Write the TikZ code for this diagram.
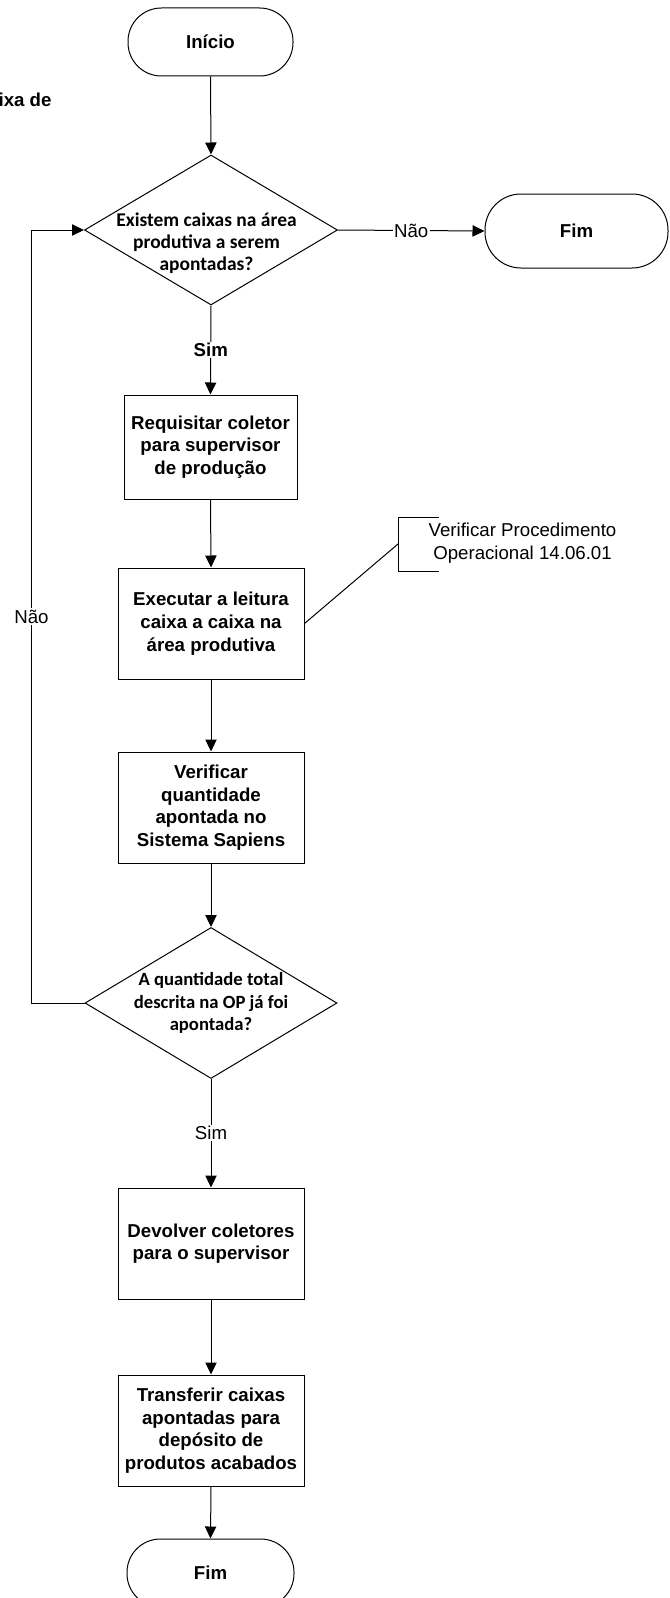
\documentclass[tikz,border=0pt]{standalone}
\usepackage{fontspec}
\setmainfont{Liberation Sans}
\newfontfamily\calibri{Carlito}
\usetikzlibrary{
    arrows.meta,
    shapes.geometric,
    positioning
}
\tikzset{
    terminal/.style={draw, rectangle, rounded corners=25pt, minimum width=123.75pt, minimum height=51pt, inner sep=0pt, font=\bfseries\fontsize{14pt}{17pt}\selectfont},
    process/.style={draw, rectangle, minimum width=139.5pt, minimum height=83.25pt, inner sep=0pt, align=center, font=\bfseries\fontsize{14pt}{17pt}\selectfont},
    decision/.style={draw, diamond, minimum width=189.75pt, minimum height=112.5pt, inner sep=0pt},
    dtext/.style={align=center, inner sep=0pt, font=\calibri\bfseries\fontsize{14pt}{17pt}\selectfont},
    flow/.style={-{Triangle[length=9pt,width=8.5pt]}},
    edgelabel/.style={fill=white, inner sep=1pt, font=\fontsize{14pt}{17pt}\selectfont}
}
\begin{document}
\begin{tikzpicture}[x=0.75pt, y=-0.75pt, line width=0.75pt]
                \useasboundingbox (0,0) rectangle (669,1598);
                \node [anchor=east, inner sep=0pt, font=\bfseries\fontsize{14pt}{17pt}\selectfont] (titulo) at (52,100) {ixa de};
                \node [terminal] (inicio) at (210.5,42) {Início};
                \node [decision] (d1) at (211,230) {};
                \node [dtext, font=\calibri\bfseries\fontsize{14.6pt}{16.5pt}\selectfont] (d1txt) at (206.5,243) {Existem caixas na área\\produtiva a serem\\apontadas?};
                \node [terminal, minimum width=137.25pt, minimum height=55.5pt, rounded corners=27pt] (fim1) at (576.5,231) {Fim};
                \node [process, minimum width=129.75pt, minimum height=78pt] (b1) at (210.5,447) {Requisitar coletor\\para supervisor\\de produção};
                \node [process] (b2) at (211,623.5) {Executar a leitura\\caixa a caixa na\\área produtiva};
                \node [process] (b3) at (211,807.5) {Verificar\\quantidade\\apontada no\\Sistema Sapiens};
                \node [decision, minimum width=189pt, minimum height=113.25pt] (d2) at (211,1003) {};
                \node [dtext] (d2txt) at (211,1003) {A quantidade total\\descrita na OP já foi\\apontada?};
                \node [process] (b4) at (211,1243.5) {Devolver coletores\\para o supervisor};
                \node [process] (b5) at (211,1430.5) {Transferir caixas\\apontadas para\\depósito de\\produtos acabados};
                \node [terminal, minimum width=125.25pt] (fim2) at (210.5,1573) {Fim};
                \foreach \a/\b in {inicio/d1, b1/b2, b2/b3, b3/d2, b4/b5, b5/fim2}{
                    \draw [flow] (\a.south) -- (\b.north);
                }
                \draw [flow] (d1.south) -- node [edgelabel, font=\bfseries\fontsize{14pt}{17pt}\selectfont] {Sim} (b1.north);
                \draw [flow] (d1.east) -- node [edgelabel] {Não} (fim1.west);
                \draw [flow] (d2.south) -- node [edgelabel] {Sim} (b4.north);
                \draw [flow] (d2.west) -- ++(-53,0) |- node [edgelabel, pos=0.25] {Não} (d1.west);
                \coordinate (colchete) at (398,544);
                \draw (b2.east) -- (colchete);
                \draw (439,517) -- (398,517) -- (398,571) -- (439,571);
                \node [align=center, inner sep=0pt, font=\fontsize{14pt}{17pt}\selectfont] (nota) at (522.5,543) {Verificar Procedimento\\Operacional 14.06.01};
            \end{tikzpicture}
\end{document}
